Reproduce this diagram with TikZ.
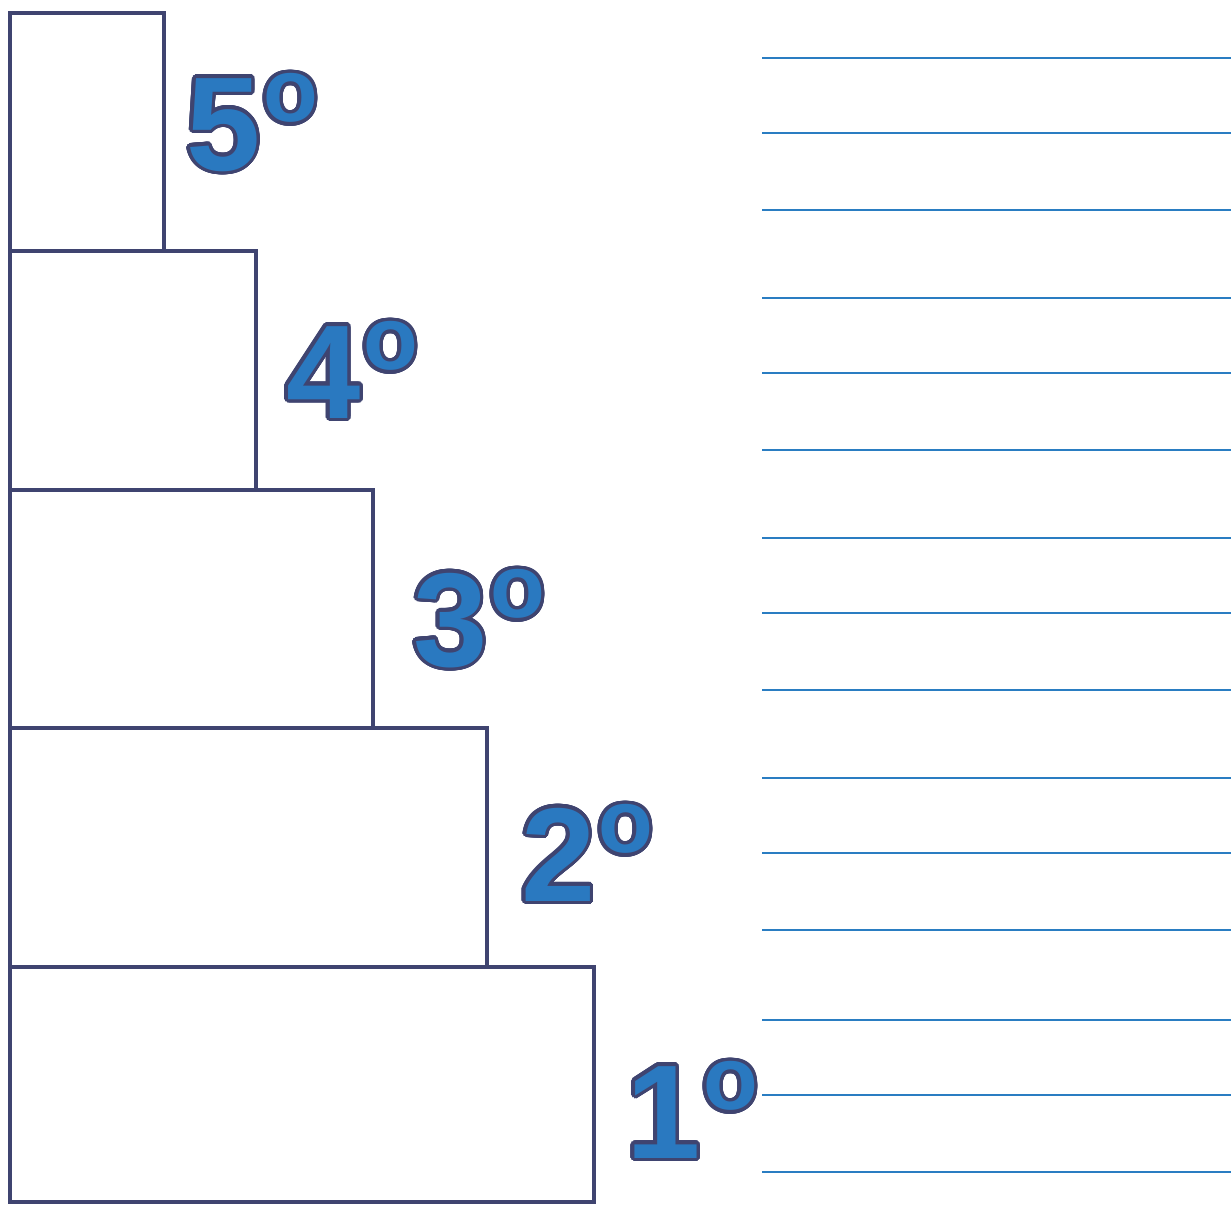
\documentclass[tikz,border=0pt]{standalone}
\usepackage{fontspec}
\setmainfont{Liberation Sans}
\usepackage{contour}
\usetikzlibrary{positioning}
\definecolor{frameNavy}{HTML}{3F4470}
\definecolor{rankBlue}{HTML}{2A79C0}
\definecolor{ruleBlue}{HTML}{2A7DC2}
\contourlength{2pt}
\contournumber{32}
\newcommand{\rank}[1]{\contour{frameNavy}{#1\kern1.5pt\raisebox{27.5pt}{\fontsize{51}{51}\selectfont o}}}

\begin{document}
\begin{tikzpicture}[
  x=0.02cm, y=-0.02cm,
  tier/.style={draw=frameNavy, line width=2.8pt},
  rank/.style={anchor=base west, inner sep=0pt, text=rankBlue,
               font=\fontsize{76}{78}\bfseries\selectfont},
  ruling/.style={draw=ruleBlue, line width=1pt}]
\useasboundingbox (0,0) rectangle (1231,1204);
% podium steps, top to bottom
\draw[tier] (10,13) rectangle (164,251);
\draw[tier] (10,251) rectangle (256,490);
\draw[tier] (10,490) rectangle (373,728);
\draw[tier] (10,728) rectangle (487,967);
\draw[tier] (10,967) rectangle (594,1202);
% place labels
\node[rank] (r5) at (186,170) {\rank{5}};
\node[rank] (r4) at (286,418) {\rank{4}};
\node[rank] (r3) at (413,666) {\rank{3}};
\node[rank] (r2) at (521,901) {\rank{2}};
\node[rank] (r1) at (626,1158) {\rank{1}};
% writing lines
\foreach \g in {58,298,538,778,1020}
  \foreach \d in {0,75,152}
    \draw[ruling] (762,\g+\d) -- (1231,\g+\d);
\end{tikzpicture}
\end{document}
